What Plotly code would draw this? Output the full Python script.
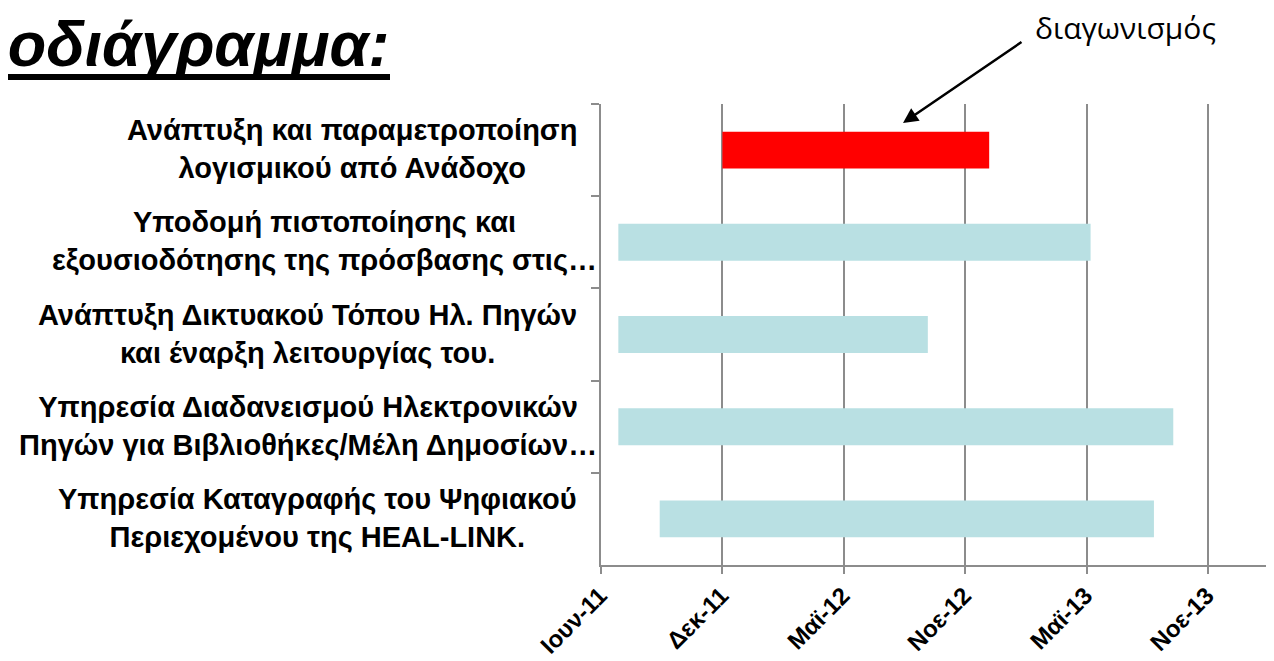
import pandas as pd
import plotly.graph_objects as go

# ---- data ----
tasks = [
    "Ανάπτυξη και παραμετροποίηση<br>λογισμικού από Ανάδοχο",
    "Υποδομή πιστοποίησης και<br>εξουσιοδότησης της πρόσβασης στις…",
    "Ανάπτυξη Δικτυακού Τόπου Ηλ. Πηγών<br>και έναρξη λειτουργίας του.",
    "Υπηρεσία Διαδανεισμού Ηλεκτρονικών<br>Πηγών για Βιβλιοθήκες/Μέλη Δημοσίων…",
    "Υπηρεσία Καταγραφής του Ψηφιακού<br>Περιεχομένου της HEAL-LINK.",
]
start_dates = ["2011-12-01", "2011-06-28", "2011-06-28", "2011-06-28", "2011-08-29"]
end_dates = ["2013-01-04", "2013-06-05", "2012-10-04", "2013-10-07", "2013-09-08"]
bar_colors = ["#FF0000", "#B9E0E3", "#B9E0E3", "#B9E0E3", "#B9E0E3"]
tick_dates = ["2011-06-02", "2011-12-01", "2012-05-31", "2012-11-29", "2013-05-30", "2013-11-28"]
tick_labels = ["Ιουν-11", "Δεκ-11", "Μαϊ-12", "Νοε-12", "Μαϊ-13", "Νοε-13"]
x_range = ["2011-06-02", "2014-03-07"]
title_text = "Χρονοδιάγραμμα:"
note_text = "διαγωνισμός"

# ---- layout geometry (page body has an 8px margin) ----
OFF = 8
W, H = 1274 - OFF, 661 - OFF
L, R, T = 601 - OFF, 0, 104 - OFF
B = H - (565 - OFF)
PW, PH = W - L - R, H - T - B


def px2x(px):
    return (px - OFF - L) / PW


def py2y(py):
    return (H - B - (py - OFF)) / PH


starts = pd.to_datetime(start_dates)
ends = pd.to_datetime(end_dates)
durations_ms = [(e - s).total_seconds() * 1000 for s, e in zip(starts, ends)]

GRAY = "#8C8C8C"
LBL_FONT = "Liberation Sans, Arial"

fig = go.Figure()
fig.add_trace(go.Bar(
    orientation="h",
    y=tasks,
    base=start_dates,
    x=durations_ms,
    marker=dict(color=bar_colors, line=dict(width=0)),
    hoverinfo="skip",
))

fig.update_layout(
    width=W, height=H,
    margin=dict(l=L, r=R, t=T, b=B, autoexpand=False),
    paper_bgcolor="white", plot_bgcolor="white",
    showlegend=False,
    bargap=0.6,
    xaxis=dict(
        type="date", range=x_range,
        tickvals=tick_dates, ticktext=tick_labels,
        tickangle=-45,
        tickfont=dict(family=LBL_FONT, size=24, color="black", weight="bold"),
        ticklabelstandoff=-2, ticklabelshift=-1,
        ticks="outside", ticklen=7, tickwidth=2, tickcolor=GRAY,
        showline=True, linecolor=GRAY, linewidth=2,
        showgrid=True, gridcolor=GRAY, gridwidth=2,
        zeroline=False, automargin=False,
    ),
    yaxis=dict(
        type="category", autorange="reversed",
        tickson="boundaries", ticks="outside", ticklen=8, tickwidth=2, tickcolor=GRAY,
        showticklabels=False,
        showline=True, linecolor=GRAY, linewidth=2,
        showgrid=False, zeroline=False, automargin=False,
    ),
)

# category labels (centered multi-line blocks, right-aligned to the axis)
for t in tasks:
    shift = -2 if t.endswith("…") else -22
    fig.add_annotation(
        xref="paper", yref="y", x=0, y=t, xanchor="right", yanchor="middle",
        xshift=shift, yshift=1, text=t, showarrow=False, align="center",
        font=dict(family=LBL_FONT, size=29, color="black", weight="bold"),
    )

# title (cut at left edge)
fig.add_annotation(
    xref="paper", yref="paper", x=px2x(391), y=py2y(44), xanchor="right", yanchor="middle",
    text="<i>" + title_text + "</i>", showarrow=False,
    font=dict(family=LBL_FONT, size=63, color="black", weight="bold"),
)
fig.add_shape(type="rect", xref="paper", yref="paper",
              x0=px2x(-5), x1=px2x(390), y0=py2y(80), y1=py2y(74),
              fillcolor="black", line=dict(width=0))

# note + arrow
fig.add_annotation(
    xref="paper", yref="paper", x=px2x(1125), y=py2y(27), xanchor="center", yanchor="middle",
    text=note_text, showarrow=False,
    font=dict(family="Open Sans, Noto Sans", size=30, color="black"),
)
fig.add_annotation(
    xref="paper", yref="paper", x=px2x(903), y=py2y(123),
    axref="pixel", ayref="pixel", ax=1023 - 903, ay=41 - 123,
    text="", showarrow=True, arrowhead=2, arrowsize=1.2, arrowwidth=2.5, arrowcolor="black",
)

fig.write_html("out.html")
